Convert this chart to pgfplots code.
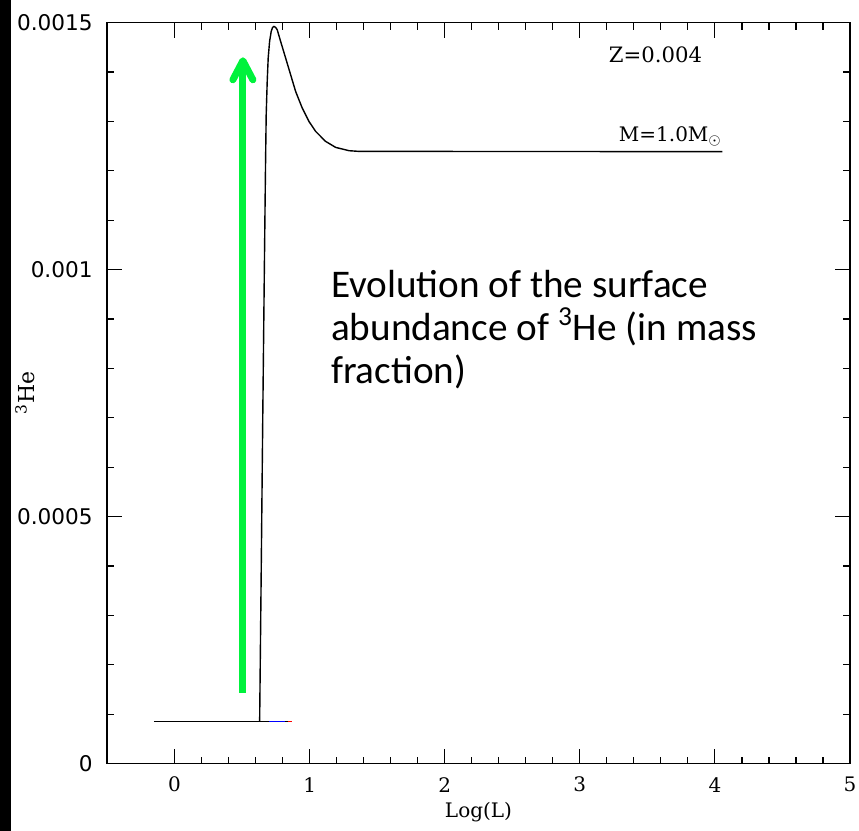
\documentclass[border=0pt]{standalone}
\usepackage{pgfplots}
\pgfplotsset{compat=1.18}
\usepackage{fontspec}
\setmainfont{DejaVu Serif}
\newfontfamily\ysans{DejaVu Sans}
\newfontfamily\carlito{Carlito}
\usetikzlibrary{arrows.meta}
\definecolor{arrowgreen}{RGB}{0,242,60}
\begin{document}
\begin{tikzpicture}
\begin{axis}[
  scale only axis,
  width=371.5pt, height=370.5pt,
  xmin=-0.5, xmax=5, ymin=0, ymax=0.0015,
  axis line style={line width=0.7pt},
  tick style={line width=0.6pt, black},
  tick align=inside, tick pos=both,
  major tick length=7.5pt, minor tick length=3.5pt,
  xtick={0,1,2,3,4,5}, xticklabels={0,1,2,3,4,5},
  minor x tick num=4,
  ytick={0,0.0005,0.001,0.0015}, yticklabels={0,0.0005,0.001,0.0015},
  minor y tick num=4,
  scaled y ticks=false,
  every x tick label/.append style={font=\fontsize{10}{11}\selectfont, anchor=center, yshift=-10.5pt, inner sep=0pt},
  every y tick label/.append style={font=\ysans\fontsize{10.8}{12}\selectfont, anchor=east, xshift=-7pt, inner sep=0pt},
  xlabel={Log(L)},
  ylabel={\textsuperscript{3}He},
  every axis x label/.style={at={(axis description cs:0.5,0)}, yshift=-24pt, anchor=center, font=\fontsize{10}{11}\selectfont},
  every axis y label/.style={at={(axis description cs:0,0.5)}, xshift=-41pt, rotate=90, anchor=center, font=\fontsize{11}{12}\selectfont},
  clip=false,
]
% baseline track
\addplot[black, line width=0.7pt] coordinates {(-0.153,0.000085) (0.87,0.000085)};
\addplot[blue, line width=0.7pt] coordinates {(0.70,0.000085) (0.82,0.000085)};
\addplot[red, line width=0.7pt] coordinates {(0.84,0.000085) (0.87,0.000085)};
% 3He surface abundance
\addplot[black, line width=0.7pt] coordinates {
(0.630,0.000085) (0.6420,0.000400) (0.6530,0.000700) (0.6640,0.000980)
(0.6705,0.001140) (0.674,0.0012227) (0.6785,0.0013138) (0.686,0.0013812)
(0.6933,0.0014286) (0.7037,0.0014622) (0.7156,0.0014824) (0.7250,0.0014900)
(0.7356,0.0014925) (0.7480,0.0014905) (0.760,0.0014858) (0.7852,0.0014622)
(0.8222,0.0014286) (0.8593,0.0013947) (0.8963,0.0013609) (0.9452,0.0013273)
(0.9948,0.0013002) (1.0444,0.0012800) (1.1185,0.0012597) (1.1926,0.0012476)
(1.2911,0.0012409) (1.3652,0.0012395) (4.055,0.0012390)};
% green arrow
\addplot[arrowgreen, line width=3.5pt, -{Straight Barb[length=9.5pt,width=10pt,round]}] coordinates {(0.506,0.000144) (0.506,0.001430)};
\node[anchor=center, font=\fontsize{10.6}{12}\selectfont] at (axis cs:3.56,0.001435) {Z=0.004};
\node[anchor=south east, inner sep=1pt, font=\fontsize{10}{11}\selectfont] at (axis cs:4.07,0.001245) {M=1.0M$_\odot$};
\node[anchor=base west, inner sep=0pt, font=\carlito\fontsize{19.6}{22}\selectfont] at (axis cs:1.156,0.000943) {Evolution of the surface};
\node[anchor=base west, inner sep=0pt, font=\carlito\fontsize{19.6}{22}\selectfont] at (axis cs:1.156,0.000856) {abundance of \textsuperscript{3}He (in mass};
\node[anchor=base west, inner sep=0pt, font=\carlito\fontsize{19.6}{22}\selectfont] at (axis cs:1.156,0.000769) {fraction)};
\end{axis}
\pgfresetboundingbox
\path[use as bounding box] (-53.5pt,-33.5pt) rectangle (376pt,381.85pt);
\fill[black] (-53.5pt,-33.5pt) rectangle (-48pt,381.85pt);
\end{tikzpicture}
\end{document}
